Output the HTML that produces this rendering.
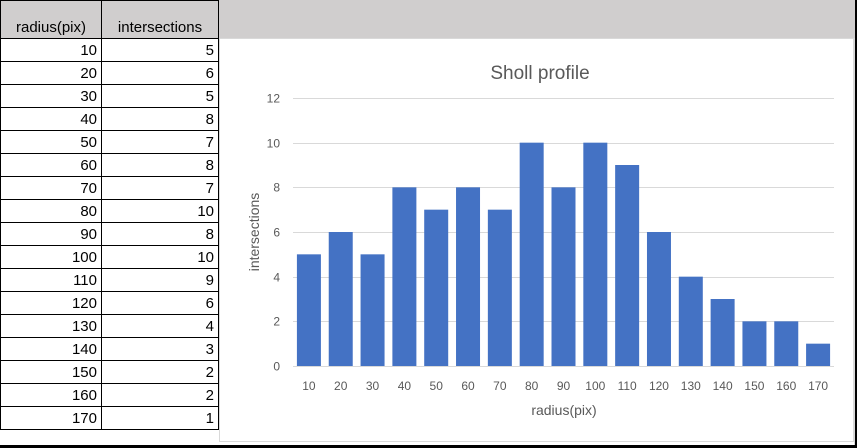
<!DOCTYPE html>
<html><head><meta charset="utf-8">
<style>
body{margin:0;width:857px;height:448px;overflow:hidden;background:#fff;font-family:"Liberation Sans",sans-serif;position:relative}
#hdr{position:absolute;left:0;top:0;width:857px;height:38px;background:#d0cece}
table{position:absolute;left:0;top:0;border-collapse:collapse}
td{border:1px solid #000;height:23px;padding:0 4px;font-size:15px;text-align:right;color:#000;box-sizing:border-box}
td.h{text-align:center;background:#d0cece;height:38px;vertical-align:bottom;padding-bottom:2px}
</style></head><body>
<div id="hdr"></div>
<table id="tbl">
<tr><td class="h" style="width:101px">radius(pix)</td><td class="h" style="width:117px">intersections</td></tr>
</table>
<div style="position:absolute;left:854px;top:38px;width:1px;height:408px;background:#d8d8d8"></div>
<div style="position:absolute;left:855px;top:0;width:2px;height:448px;background:#000"></div>
<div style="position:absolute;left:0;top:445px;width:857px;height:3px;background:#000"></div>
<svg id="chart" style="position:absolute;left:219px;top:38px" width="635" height="404" viewBox="219 38 635 404">
<rect x="219.5" y="38.5" width="634" height="403" fill="#fff" stroke="#d9d9d9"/>
<text x="540" y="79" font-size="19" fill="#595959" text-anchor="middle">Sholl profile</text>
<text transform="translate(259,232) rotate(-90)" font-size="14" fill="#595959" text-anchor="middle">intersections</text>
<text x="564" y="415" font-size="14" fill="#595959" text-anchor="middle">radius(pix)</text>
<g id="grid"></g><g id="bars"></g><g id="labels"></g>
</svg>
<script>
const categories=[10,20,30,40,50,60,70,80,90,100,110,120,130,140,150,160,170];
const values=[5,6,5,8,7,8,7,10,8,10,9,6,4,3,2,2,1];
const yTicks=[0,2,4,6,8,10,12];
const NS="http://www.w3.org/2000/svg";
const x0=293,x1=834,y0=366,yMax=12,pxTop=98;
const band=(x1-x0)/categories.length;
function xPos(i){return x0+band*i+band/2;}
function yPos(v){return y0-(y0-pxTop)*v/yMax;}
const tbl=document.getElementById('tbl');
categories.forEach((c,i)=>{
 const tr=document.createElement('tr');
 
 
 const a=document.createElement('td');a.textContent=c;
 
 
 const b=document.createElement('td');b.textContent=values[i];
 
 
 tr.appendChild(a);tr.appendChild(b);tbl.appendChild(tr);
});
const grid=document.getElementById('grid'),bars=document.getElementById('bars'),labels=document.getElementById('labels');
yTicks.forEach(t=>{
 const y=Math.round(yPos(t))+0.5;
 const l=document.createElementNS(NS,'line');
 l.setAttribute('x1',x0);l.setAttribute('x2',x1);l.setAttribute('y1',y);l.setAttribute('y2',y);
 l.setAttribute('stroke','#d9d9d9');
 
 
 grid.appendChild(l);
 const tx=document.createElementNS(NS,'text');
 tx.setAttribute('x',280);tx.setAttribute('y',y+4);tx.setAttribute('text-anchor','end');
 tx.setAttribute('font-size','12');tx.setAttribute('fill','#595959');tx.textContent=t;
 
 
 labels.appendChild(tx);
});
categories.forEach((c,i)=>{
 const w=24,cx=xPos(i);
 const r=document.createElementNS(NS,'rect');
 r.setAttribute('x',cx-w/2);r.setAttribute('width',w);
 r.setAttribute('y',yPos(values[i]));r.setAttribute('height',y0-yPos(values[i]));
 r.setAttribute('fill','#4472c4');
 
 
 bars.appendChild(r);
 const tx=document.createElementNS(NS,'text');
 tx.setAttribute('x',cx);tx.setAttribute('y',390);tx.setAttribute('text-anchor','middle');
 tx.setAttribute('font-size','12');tx.setAttribute('fill','#595959');tx.textContent=c;
 
 
 labels.appendChild(tx);
});
</script>
</body></html>
